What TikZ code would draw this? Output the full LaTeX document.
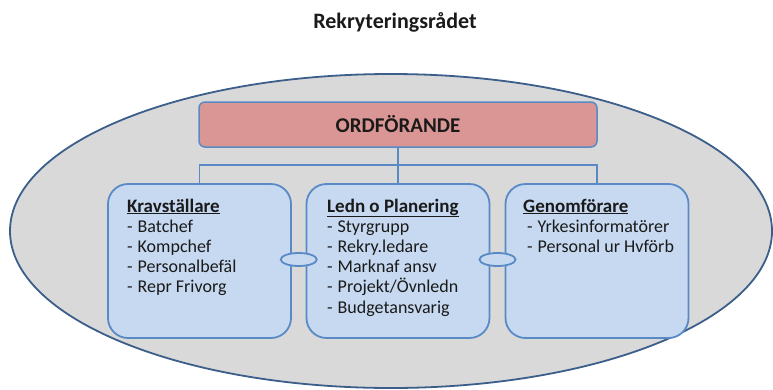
\documentclass[tikz,border=0pt]{standalone}
\usepackage{fontspec}
\setmainfont{Carlito}
\usetikzlibrary{shapes.geometric,calc}

\definecolor{councilfill}{HTML}{D9D9D9}
\definecolor{councilline}{HTML}{3B5E8A}
\definecolor{boxline}{HTML}{5A8AC6}
\definecolor{groupfill}{HTML}{C6D9F1}
\definecolor{chairfill}{HTML}{D99694}
\definecolor{ink}{HTML}{1A1A1A}

\begin{document}
\begin{tikzpicture}[x=1pt,y=-1pt,
  council/.style={ellipse, draw=councilline, fill=councilfill, line width=1.8pt,
    minimum width=762pt, minimum height=314pt, inner sep=0pt},
  chairbox/.style={rectangle, rounded corners=6pt, draw=boxline, fill=chairfill,
    line width=1.5pt, minimum width=398pt, minimum height=45pt, text=ink,
    font=\bfseries\fontsize{21}{24}\selectfont},
  groupbox/.style={rectangle, rounded corners=20pt, draw=boxline, fill=groupfill,
    line width=1.8pt, minimum width=183pt, minimum height=154pt},
  link/.style={ellipse, draw=boxline, fill=groupfill, line width=1.8pt,
    minimum width=36pt, minimum height=13pt, inner sep=0pt},
  tree/.style={draw=boxline, line width=1.5pt},
  head/.style={anchor=base west, inner sep=0pt, text=ink,
    font=\bfseries\fontsize{19}{22}\selectfont},
  item/.style={anchor=base west, inner sep=0pt, text=ink,
    font=\fontsize{18}{21}\selectfont}
]
\useasboundingbox (0,0) rectangle (773,389);

% council outline
\node[council] (council) at (391,231) {};

% title
\node[anchor=base, inner sep=0pt, text=ink, font=\bfseries\fontsize{22}{26}\selectfont]
  (title) at (395,28) {Rekryteringsrådet};

% chair
\node[chairbox] (chair) at (398,124.5) {ORDFÖRANDE};

% three working groups
\node[groupbox] (krav)  at (199.5,261) {};
\node[groupbox] (ledn)  at (398,261) {};
\node[groupbox] (genom) at (597,261) {};

% organisation tree
\coordinate (hub) at (398,165);
\draw[tree] (chair.south) -- (ledn.north);
\draw[tree] (krav.north) -- (krav.north |- hub) -- (genom.north |- hub) -- (genom.north);

% links between groups
\node[link] (link1) at ($(krav.east)!0.5!(ledn.west)+(0,-1.5)$) {};
\node[link] (link2) at ($(ledn.east)!0.5!(genom.west)+(0,-1.5)$) {};

% group contents
\node[head] (krav-head) at (127,212) {\underline{Kravställare}};
\foreach \t [count=\i] in {Batchef, Kompchef, Personalbefäl, Repr Frivorg}
  \node[item] (krav-\i) at (127,211.75+20.25*\i) {\makebox[10.5pt][l]{-}\t};

\node[head] (ledn-head) at (327,212) {\underline{Ledn o Planering}};
\foreach \t [count=\i] in {Styrgrupp, Rekry.ledare, Marknaf ansv, Projekt/Övnledn, Budgetansvarig}
  \node[item] (ledn-\i) at (327,211.75+20.25*\i) {\makebox[10.5pt][l]{-}\t};

\node[head] (genom-head) at (523,212) {\underline{Genomförare}};
\foreach \t [count=\i] in {Yrkesinformatörer, Personal ur Hvförb}
  \node[item] (genom-\i) at (527,211.75+20.25*\i) {\makebox[10.5pt][l]{-}\t};
\end{tikzpicture}
\end{document}
